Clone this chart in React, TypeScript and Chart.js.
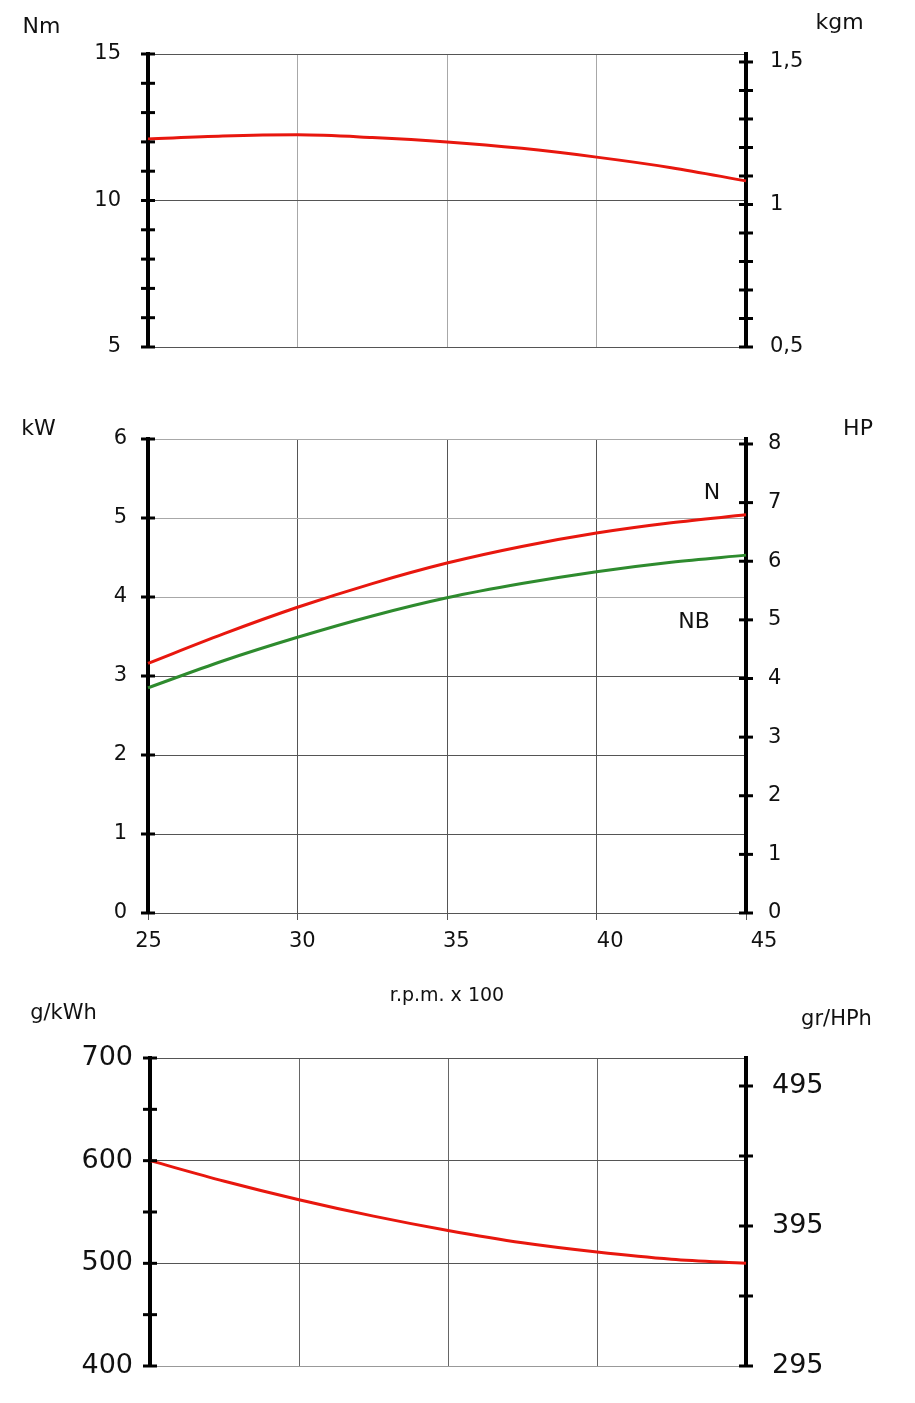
import React, { useEffect, useRef } from "react";
import { Chart, registerables } from "chart.js";

Chart.register(...registerables);

// ---------- data ----------
const rpm = [25, 27.5, 30, 32.5, 35, 37.5, 40, 42.5, 45];
const torqueNm = [12.1, 12.2, 12.24, 12.15, 12.0, 11.78, 11.48, 11.12, 10.67];
const powerN = [3.16, 3.53, 3.87, 4.17, 4.43, 4.64, 4.81, 4.94, 5.04];
const powerNB = [2.85, 3.19, 3.49, 3.76, 3.99, 4.17, 4.32, 4.44, 4.53];
const consumption = [600, 580, 562, 546, 532, 520, 511, 504, 500];

// ---------- tick values / labels ----------
const rpmTicks = [25, 30, 35, 40, 45];
const nmTicks = [5, 6, 7, 8, 9, 10, 11, 12, 13, 14, 15];
const nmLabelled = [5, 10, 15];
const kgmTicks = [0.5, 0.55, 0.6, 0.65, 0.7, 0.75, 0.8, 0.85, 0.9, 0.95, 1, 1.05, 1.1, 1.15, 1.2, 1.25, 1.3, 1.35, 1.4, 1.45, 1.5];
const kgmLabelled = [0.5, 1, 1.5];
const kwTicks = [0, 1, 2, 3, 4, 5, 6];
const hpTicks = [0, 1, 2, 3, 4, 5, 6, 7, 8];
const gkwhTicks = [400, 450, 500, 550, 600, 650, 700];
const gkwhLabelled = [400, 500, 600, 700];
const grhphTicks = [295, 345, 395, 445, 495];
const grhphLabelled = [295, 395, 495];

const FONT = "'DejaVu Sans', sans-serif";
const RED = "#e8170e";
const GREEN = "#2e8b2e";
const DARK_GRID = "#555555";
const LIGHT_GRID = "#a8a8a8";
const NONE = "rgba(0,0,0,0)";

const has = (arr: number[], v: number) => arr.some((a) => Math.abs(a - v) < 1e-9);
const fmt = (v: number) => String(v).replace(".", ",");
const setTicks = (vals: number[]) => (scale: any) => {
  scale.ticks = vals.map((value) => ({ value }));
};
const pts = (ys: number[]) => rpm.map((x, i) => ({ x, y: ys[i] }));

const crossTicks = {
  id: "crossTicks",
  afterDatasetsDraw(chart: any, _args: any, opts: any) {
    const ctx = chart.ctx;
    ctx.save();
    ctx.strokeStyle = "#000";
    ctx.lineWidth = opts.width ?? 3;
    for (const id of opts.scales ?? []) {
      const s = chart.scales[id];
      if (!s) continue;
      const x = s.position === "left" ? s.right : s.left;
      for (const t of s.ticks) {
        const y = s.getPixelForValue(t.value);
        ctx.beginPath();
        ctx.moveTo(x - opts.half, y);
        ctx.lineTo(x + opts.half, y);
        ctx.stroke();
      }
    }
    ctx.restore();
  },
};

const line = (data: any, color: string, yAxisID: string) => ({
  data,
  borderColor: color,
  borderWidth: 3,
  pointRadius: 0,
  cubicInterpolationMode: "monotone" as const,
  xAxisID: "x",
  yAxisID,
  clip: false,
});

const baseOptions = (top: number, scales: any) => ({
  responsive: false,
  animation: false,
  events: [],
  layout: { padding: { left: 0, right: 0, top, bottom: 0 } },
  plugins: {
    legend: { display: false },
    tooltip: { enabled: false },
    crossTicks: { scales: ["y", "y2"], half: 7, width: 3 },
  },
  scales,
});

const axisBorder = { display: true, color: "#000", width: 4 };

// vertical axis: label gap made with an invisible tick length (keeps layout padding small)
const yAxis = (
  position: "left" | "right",
  min: number,
  max: number,
  tickVals: number[],
  gap: number,
  size: number,
  width: number,
  label: (v: number) => string,
  gridColor: any
) => ({
  position,
  min,
  max,
  afterBuildTicks: setTicks(tickVals),
  ticks: {
    padding: 0,
    color: "#111",
    font: { family: FONT, size },
    callback: label,
  },
  grid: {
    display: true,
    drawOnChartArea: gridColor !== null,
    drawTicks: true,
    tickLength: gap,
    tickColor: NONE,
    lineWidth: 1,
    color: gridColor ?? NONE,
  },
  border: axisBorder,
  afterFit: (s: any) => {
    s.width = width;
  },
});

// ---------- panel 1: torque ----------
const torqueConfig = () => ({
  type: "line",
  data: { datasets: [line(pts(torqueNm), RED, "y")] },
  plugins: [crossTicks],
  options: baseOptions(54, {
    x: {
      type: "linear",
      min: 25,
      max: 45,
      afterBuildTicks: setTicks(rpmTicks),
      ticks: { display: false },
      grid: { color: LIGHT_GRID, lineWidth: 1, drawTicks: false },
      border: { display: false },
      afterFit: (s: any) => { s.height = 33; },
    },
    y: yAxis("left", 5, 15, nmTicks, 27, 21, 148,
      (v) => (has(nmLabelled, v) ? String(v) : ""),
      (c: any) => (c.tick && has(nmLabelled, c.tick.value) ? DARK_GRID : NONE)),
    y2: yAxis("right", 0.5, 1.528, kgmTicks, 24, 21, 169,
      (v) => (has(kgmLabelled, v) ? fmt(v) : ""), null),
  }),
});

// ---------- panel 2: power ----------
const powerConfig = () => ({
  type: "line",
  data: {
    datasets: [line(pts(powerN), RED, "y"), line(pts(powerNB), GREEN, "y")],
  },
  plugins: [crossTicks],
  options: baseOptions(59, {
    x: {
      type: "linear",
      min: 25,
      max: 45,
      weight: 0,
      afterBuildTicks: setTicks(rpmTicks),
      ticks: { display: false },
      grid: {
        color: DARK_GRID,
        lineWidth: 1,
        drawTicks: true,
        tickLength: 7,
        tickColor: DARK_GRID,
        tickWidth: 1,
      },
      border: { display: false },
      afterFit: (s: any) => { s.height = 0; },
    },
    xl: {
      type: "linear",
      position: "bottom",
      weight: 1,
      min: 24.984,
      max: 44.415,
      afterBuildTicks: setTicks(rpmTicks),
      ticks: {
        padding: 16,
        color: "#111",
        autoSkip: false,
        maxRotation: 0,
        minRotation: 0,
        font: { family: FONT, size: 21 },
        callback: (v: number) => String(v),
      },
      grid: { display: false, drawTicks: false },
      border: { display: false },
      afterFit: (s: any) => { s.height = 107; },
    },
    y: yAxis("left", 0, 6, kwTicks, 21, 21, 148,
      (v) => String(v),
      (c: any) => (c.tick && c.tick.value >= 4 ? LIGHT_GRID : DARK_GRID)),
    y2: yAxis("right", 0, 8.085, hpTicks, 22, 21, 169, (v) => String(v), null),
  }),
});

// ---------- panel 3: specific consumption ----------
const consumptionConfig = () => ({
  type: "line",
  data: { datasets: [line(pts(consumption), RED, "y")] },
  plugins: [crossTicks],
  options: baseOptions(38, {
    x: {
      type: "linear",
      min: 25,
      max: 45,
      afterBuildTicks: setTicks(rpmTicks),
      ticks: { display: false },
      grid: { color: "#666666", lineWidth: 1, drawTicks: false },
      border: { display: false },
      afterFit: (s: any) => { s.height = 37; },
    },
    y: yAxis("left", 400, 700, gkwhTicks, 17, 27, 150,
      (v) => (has(gkwhLabelled, v) ? String(v) : ""),
      (c: any) =>
        c.tick && has(gkwhLabelled, c.tick.value)
          ? c.tick.value === 400
            ? "#999999"
            : DARK_GRID
          : NONE),
    y2: yAxis("right", 295, 515, grhphTicks, 26, 27, 169,
      (v) => (has(grhphLabelled, v) ? String(v) : ""), null),
  }),
});

function ChartPanel({ top, height, build }: { top: number; height: number; build: () => any }) {
  const ref = useRef<HTMLCanvasElement | null>(null);
  useEffect(() => {
    if (!ref.current) return;
    const chart = new Chart(ref.current, build());
    return () => chart.destroy();
  }, []);
  return (
    <canvas
      ref={ref}
      width={915}
      height={height}
      style={{ position: "absolute", left: 0, top, width: 915, height, display: "block" }}
    />
  );
}

// text placed by centre x and baseline y (DejaVu Sans metrics, line-height 1)
function Label({ cx, baseline, size, text }: { cx: number; baseline: number; size: number; text: string }) {
  return (
    <div
      style={{
        position: "absolute",
        left: cx,
        top: baseline - 0.846 * size,
        transform: "translateX(-50%)",
        fontFamily: FONT,
        fontSize: size,
        lineHeight: 1,
        color: "#111",
        whiteSpace: "nowrap",
      }}
    >
      {text}
    </div>
  );
}

export default function App() {
  return (
    <div
      style={{
        position: "absolute",
        left: 0,
        top: 0,
        width: 915,
        height: 1403,
        background: "#fff",
        overflow: "hidden",
      }}
    >
      <ChartPanel top={0} height={380} build={torqueConfig} />
      <ChartPanel top={380} height={640} build={powerConfig} />
      <ChartPanel top={1020} height={383} build={consumptionConfig} />
      <Label cx={41.5} baseline={34} size={22} text="Nm" />
      <Label cx={839.5} baseline={30} size={22} text="kgm" />
      <Label cx={38.5} baseline={436} size={22} text="kW" />
      <Label cx={858} baseline={436} size={22} text="HP" />
      <Label cx={712} baseline={500} size={22} text="N" />
      <Label cx={694} baseline={629} size={22} text="NB" />
      <Label cx={447} baseline={1001} size={19} text="r.p.m. x 100" />
      <Label cx={63.5} baseline={1020} size={21} text="g/kWh" />
      <Label cx={836.5} baseline={1026} size={21} text="gr/HPh" />
    </div>
  );
}
